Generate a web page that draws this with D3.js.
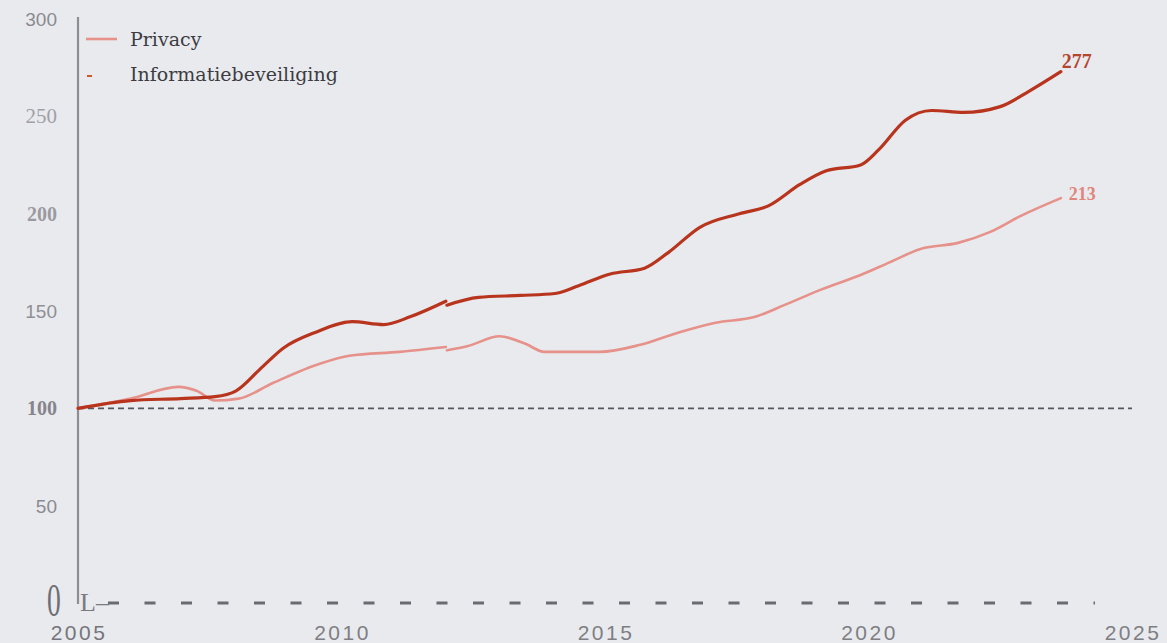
<!DOCTYPE html>
<html><head><meta charset="utf-8">
<script src="https://cdn.jsdelivr.net/npm/d3@7/dist/d3.min.js"></script>
<style>
html,body{margin:0;padding:0;background:#e9eaee;}
svg{display:block;}
</style></head>
<body>
<svg id="c" width="1167" height="643"></svg>
<script>
const infoYears = [2005,2006,2006.95,2007.6,2008,2008.45,2008.9,2009.5,2010.2,2010.8,2011.3,2011.98,2012.0,2012.6,2013.4,2014.05,2014.5,2015.1,2015.75,2016.2,2016.8,2017.55,2018.1,2018.7,2019.2,2019.85,2020.2,2020.7,2021.2,2021.8,2022.5,2023.05,2023.65];
const infoValues = [100,104,105,106,109,120,131,139,144.5,143,147,155,153,157,158,159,163,169,172,180,193,200,204,215,222,225,233,248,253,252,255,263,273];
const privYears = [2005,2006,2006.9,2007.25,2007.6,2008.05,2008.7,2009.6,2010.15,2011.1,2011.98,2012.0,2012.4,2013.0,2013.5,2013.85,2014.9,2015.65,2016.4,2017.1,2017.85,2018.4,2019.1,2019.85,2020.4,2021.0,2021.7,2022.3,2022.9,2023.65];
const privValues = [100,105,111,109,104,105,113,123,127,129,131.5,129.8,132,137,133,129,129,132.5,139,144,147,153,161,168.5,175,182,185,190.5,199,208];
const yTicks = [0,50,100,150,200,250,300];
const xTicks = [2005,2010,2015,2020,2025];
const seriesNames = ["Privacy","Informatiebeveiliging"];
const endLabels = ["213","277"];
const breakYear = 2012;

const svg = d3.select("#c");
const x = d3.scaleLinear().domain([2005,2025]).range([78,1132]);
const y = d3.scaleLinear().domain([0,300]).range([603,19]);

// y axis line
svg.append("line").attr("x1",x(2005)).attr("x2",x(2005)).attr("y1",17).attr("y2",604)
  .attr("stroke","#8d8d93").attr("stroke-width",2.2);

// baseline dashed
svg.append("line").attr("x1",108).attr("x2",1095).attr("y1",y(0)).attr("y2",y(0))
  .attr("stroke","#6a6a70").attr("stroke-width",3.2).attr("stroke-dasharray","11,25.5");
svg.append("text").attr("x",80).attr("y",y(0)+8).attr("font-family","Liberation Serif")
  .attr("font-size",26).attr("fill","#7a7a80").text("L–");

// reference at 100
svg.append("line").attr("x1",x(2005)).attr("x2",x(2025)).attr("y1",y(100)).attr("y2",y(100))
  .attr("stroke","#55565c").attr("stroke-width",1.8).attr("stroke-dasharray","6,4");

// y tick labels
const yStyle = {
  0:{f:"Liberation Serif",w:"normal",s:46,c:"#6e6e74"},
  50:{f:"Liberation Sans",w:"normal",s:19,c:"#8a8a90"},
  100:{f:"Liberation Serif",w:"bold",s:20,c:"#85858b"},
  150:{f:"Liberation Sans",w:"normal",s:19,c:"#8f8f95"},
  200:{f:"Liberation Serif",w:"bold",s:20,c:"#9a9aa0"},
  250:{f:"Liberation Serif",w:"normal",s:21,c:"#a0a0a6"},
  300:{f:"Liberation Sans",w:"normal",s:19,c:"#8a8a90"}
};
svg.selectAll("text.yt").data(yTicks).join("text").attr("class","yt")
  .attr("x",d=>d===0?0:57).attr("y",d=>d===0?0:y(d)+7)
  .attr("text-anchor",d=>d===0?"middle":"end")
  .attr("font-family",d=>yStyle[d].f).attr("font-weight",d=>yStyle[d].w)
  .attr("font-size",d=>yStyle[d].s).attr("fill",d=>yStyle[d].c)
  .attr("transform",d=>d===0?`translate(54,${y(0)+13}) scale(0.6,1)`:null)
  .text(d=>d);

// x tick labels
svg.selectAll("text.xt").data(xTicks).join("text").attr("class","xt")
  .attr("x",d=>x(d)+1).attr("y",640).attr("text-anchor","middle")
  .attr("font-family","Liberation Sans").attr("font-size",21).attr("letter-spacing",2.5)
  .attr("fill",d=>d===2005?"#75757b":"#7e7e84").text(d=>d);

const line = d3.line().x(d=>x(d[0])).y(d=>y(d[1])).curve(d3.curveMonotoneX);
const privData = privYears.map((t,i)=>[t,privValues[i]]);
const infoData = infoYears.map((t,i)=>[t,infoValues[i]]);
function drawSplit(data, color, width){
  const parts = [data.filter(d=>d[0]<breakYear), data.filter(d=>d[0]>=breakYear)];
  parts.forEach(p=>{
    svg.append("path").attr("d",line(p)).attr("fill","none")
      .attr("stroke",color).attr("stroke-width",width)
      .attr("stroke-linejoin","round").attr("stroke-linecap","round");
  });
}
drawSplit(privData,"#e6918a",2.6);
drawSplit(infoData,"#b8341d",3.2);

// end labels
svg.append("text").attr("x",x(privYears[privYears.length-1])+8).attr("y",y(privValues[privValues.length-1])+2)
  .attr("font-family","Liberation Serif").attr("font-weight","bold").attr("font-size",18)
  .attr("fill","#e0857c").text(endLabels[0]);
svg.append("text").attr("x",x(infoYears[infoYears.length-1])+1).attr("y",y(infoValues[infoValues.length-1])-4)
  .attr("font-family","Liberation Serif").attr("font-weight","bold").attr("font-size",20)
  .attr("fill","#b4452f").text(endLabels[1]);

// legend
svg.append("line").attr("x1",86).attr("x2",117).attr("y1",39).attr("y2",39)
  .attr("stroke","#e6918a").attr("stroke-width",2.6);
svg.append("line").attr("x1",87).attr("x2",92).attr("y1",76).attr("y2",76)
  .attr("stroke","#d2552f").attr("stroke-width",2);
svg.selectAll("text.lg").data(seriesNames).join("text").attr("class","lg")
  .attr("x",130).attr("y",(d,i)=>46+i*35)
  .attr("font-family","DejaVu Serif").attr("font-size",19).attr("fill","#3c3c42").text(d=>d);
</script>
</body></html>
